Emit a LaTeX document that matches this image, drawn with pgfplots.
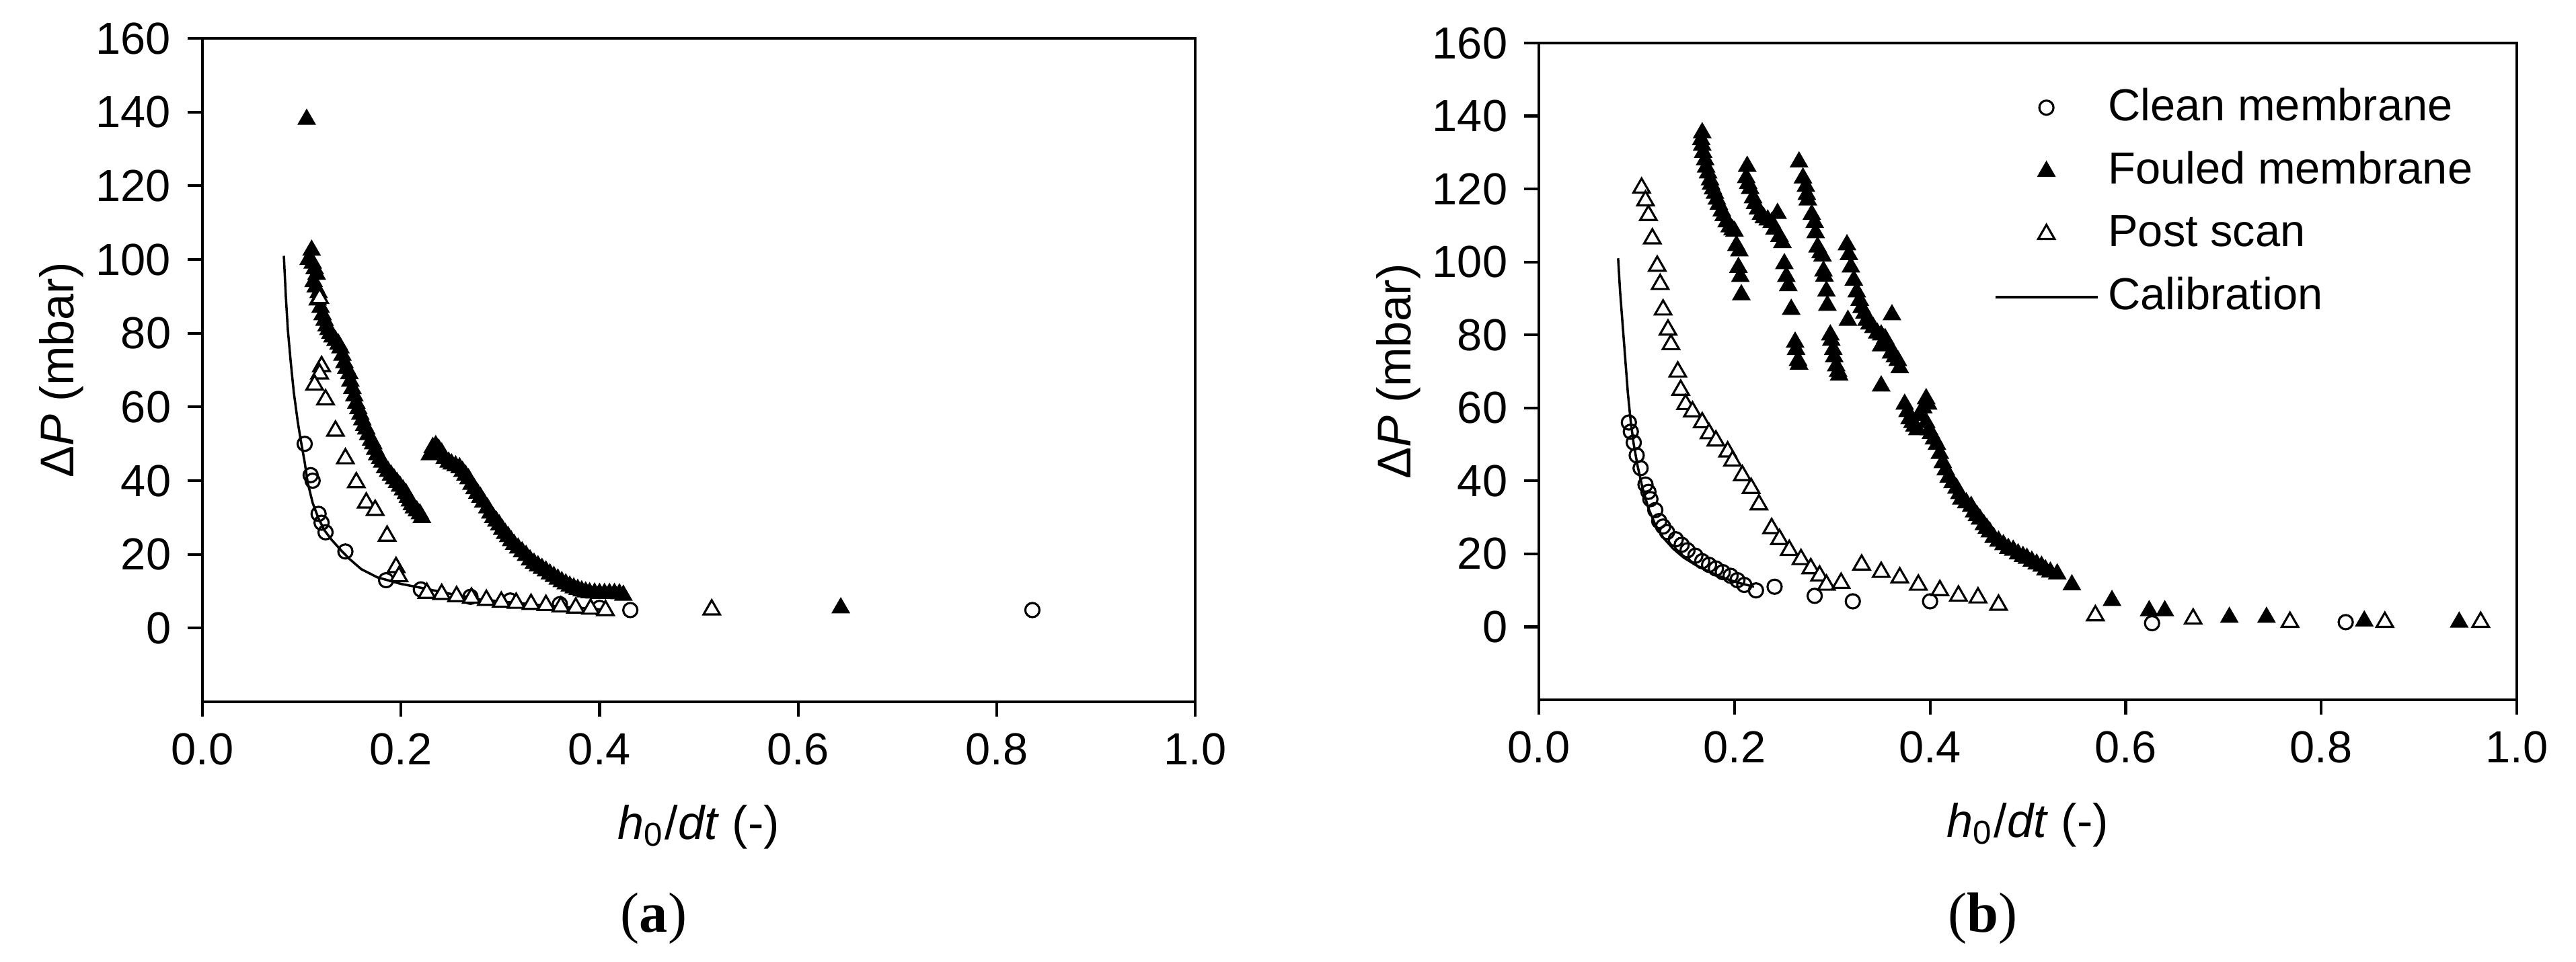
\documentclass[border=0pt]{standalone}
\usepackage{fontspec}
\setmainfont{Liberation Sans}
\newfontfamily\capfont{Liberation Serif}
\usepackage{pgfplots}
\pgfplotsset{compat=1.18}

\pgfplotsset{
  panel/.style={
    scale only axis,
    xmin=0, xmax=1, ymin=-20, ymax=160,
    xtick={0,0.2,0.4,0.6,0.8,1}, ytick={0,20,40,60,80,100,120,140,160},
    tick align=outside, xtick pos=bottom, ytick pos=left,
    major tick length=0.11cm,
    axis line style={line width=0.6pt},
    every tick/.style={line width=0.6pt, black},
    tick label style={font=\fontsize{9.5}{11}\selectfont},
    label style={font=\fontsize{9.5}{11}\selectfont},
    /pgf/number format/assume math mode=true,
    xticklabel style={/pgf/number format/.cd, fixed, fixed zerofill, precision=1},
    every axis x label/.style={at={(axis description cs:0.5,0)}, yshift=-1.02cm, anchor=base},
    every axis y label/.style={at={(axis description cs:0,0.5)}, xshift=-0.955cm, rotate=90, anchor=base},
    xlabel={\textit{h}\textsubscript{0}/\textit{dt} (-)},
    ylabel={Δ\textit{P} (mbar)},
  },
  lgimg/.style={legend image code/.code={\draw[mark repeat=2,mark phase=2,##1] plot coordinates {(0cm,0cm) (0.38cm,0cm) (0.76cm,0cm)};}},
  clean/.style={only marks, mark=o, mark size=1.5pt, mark options={fill=white, draw=black, line width=0.45pt}, lgimg},
  fouled/.style={only marks, mark=triangle*, mark size=2pt, mark options={fill=black, draw=black, line width=0.3pt}, lgimg},
  post/.style={only marks, mark=triangle*, mark size=2pt, mark options={fill=white, draw=black, line width=0.45pt}, lgimg},
  calib/.style={no markers, black, line width=0.5pt, lgimg},
}

\begin{document}
\begin{tikzpicture}
\useasboundingbox (0,0) rectangle (19.15,-7.15);

% (a)
\begin{axis}[panel, at={(1.505cm,-5.22cm)}, anchor=south west, width=7.38cm, height=4.935cm]
\addplot[clean] coordinates {(0.103,50)(0.109,41.5)(0.111,40)(0.117,31)(0.120,28.6)(0.124,26)(0.144,20.8)(0.185,13)(0.22,10.5)(0.27,8.5)(0.31,7.5)(0.36,6.5)(0.40,5.5)(0.431,4.9)(0.836,4.9)};
\addplot[fouled] coordinates {(0.105,138)
(0.110,102.5)(0.107,100)(0.111,99)(0.113,97.5)(0.115,96)(0.112,94)(0.114,92.5)(0.117,91)(0.116,89)(0.119,87)(0.121,85)(0.123,83.5)(0.125,82)(0.127,81)(0.129,80)(0.131,79)(0.134,78)(0.137,77)(0.139,76)(0.141,74)(0.143,72)(0.145,70.5)(0.148,69)(0.149,67)(0.151,65)(0.153,63)(0.155,61)(0.157,59.5)(0.159,58)(0.161,56.5)(0.163,55)(0.165,54)(0.167,52.5)(0.170,51)(0.172,50)(0.174,48.5)(0.176,47)(0.179,46)(0.181,45)(0.184,43.5)(0.187,42.5)(0.190,41.5)(0.193,40.5)(0.196,39.5)(0.199,38.5)(0.202,37.5)(0.205,36.5)(0.207,35.5)(0.209,34.5)(0.211,33.5)(0.213,32.6)(0.216,31.8)(0.219,31)(0.221,30)
(0.229,47)(0.232,49)(0.235,49.5)(0.238,48.5)(0.241,47.5)(0.244,46)(0.248,45)(0.251,44.5)(0.255,44)(0.259,43.5)(0.262,42.5)(0.265,41.5)(0.268,40.5)(0.271,39)(0.274,37.8)(0.277,36.6)(0.280,35.5)(0.283,34.2)(0.287,32.6)(0.290,31.2)(0.293,30)(0.296,29)(0.299,28)(0.302,26.8)(0.305,25.7)(0.308,24.8)(0.311,23.7)(0.314,22.7)(0.318,21.7)(0.322,20.7)(0.326,19.7)(0.330,18.5)(0.334,17.6)(0.338,16.9)(0.342,16.2)(0.346,15.5)(0.350,14.7)(0.354,14)(0.358,13.3)(0.362,12.6)(0.366,12)(0.370,11.4)(0.374,10.9)(0.378,10.5)(0.382,10.1)(0.386,9.8)(0.390,9.6)(0.395,9.5)(0.400,9.4)(0.405,9.4)(0.410,9.4)(0.415,9.4)(0.420,9.3)(0.424,8.9)
(0.643,5.5)};
\addplot[post] coordinates {(0.118,89.5)(0.120,71)(0.118,69)(0.113,66)(0.124,62)(0.134,53.5)(0.144,46)(0.155,39.5)(0.165,34)(0.174,32)(0.186,25)(0.195,16.5)(0.198,14)(0.226,9.5)(0.241,9.2)(0.256,8.6)(0.271,8.2)(0.286,7.6)(0.301,7.1)(0.316,6.8)(0.331,6.5)(0.346,6.2)(0.361,5.8)(0.376,5.5)(0.391,5.2)(0.406,4.8)(0.513,5)};
\addplot[calib] coordinates {(0.082,101)(0.084,90)(0.086,81)(0.089,72)(0.092,64)(0.096,56)(0.099,51)(0.103,45)(0.106,39.5)(0.111,34)(0.117,29.7)(0.123,26.5)(0.130,24)(0.140,21)(0.148,18.8)(0.160,16)(0.176,13.8)(0.200,12)(0.221,10.9)(0.25,9.3)(0.280,7.8)(0.31,7)(0.35,6)(0.38,5.5)(0.41,4.9)};
\end{axis}

% (b)
\begin{axis}[panel, at={(11.44cm,-5.205cm)}, anchor=south west, width=7.27cm, height=4.885cm,
  legend style={draw=none, fill=none, at={(axis description cs:0.45,0.962)}, anchor=north west,
    font=\fontsize{9.5}{11}\selectfont, legend cell align=left, row sep=1.1pt}]
\addplot[clean] coordinates {(0.092,56)(0.094,53.5)(0.097,50.5)(0.100,47)(0.104,43.5)(0.109,39)(0.112,37)(0.114,35)(0.119,32)(0.123,29)(0.127,27.5)(0.131,26)(0.140,24)(0.146,22.5)(0.152,21)(0.160,19.5)(0.167,18)(0.174,17)(0.181,16)(0.188,15)(0.196,14)(0.203,12.8)(0.210,11.5)(0.222,10)(0.241,11)(0.282,8.5)(0.321,7)(0.400,7)(0.627,1)(0.825,1.3)};
\addplot[fouled] coordinates {(0.167,135.4)(0.166,133.5)(0.167,132)(0.168,130)(0.170,128)(0.171,126)(0.173,124.4)(0.175,122.5)(0.176,121.3)(0.178,120)(0.180,118.8)(0.182,117.2)(0.184,115.8)(0.187,114)(0.189,112.7)(0.192,111)(0.195,109.6)(0.198,108.8)(0.200,108.4)
(0.202,104.5)(0.205,103)(0.204,98.5)(0.206,96)(0.207,91)
(0.213,126.2)(0.212,123.1)(0.214,121.5)(0.216,120.1)(0.219,117.6)(0.221,116)(0.224,114.5)(0.227,113)(0.230,112.1)(0.234,111.5)(0.238,110.8)(0.241,109)(0.244,113.3)(0.246,107)(0.249,105.3)(0.251,99.5)(0.253,96)(0.255,93.5)(0.258,87)
(0.262,78)(0.263,76)(0.265,73)(0.266,72)
(0.266,127.4)(0.270,123)(0.273,120.7)(0.274,118.5)(0.275,117)(0.279,113)(0.282,110.8)(0.283,108)(0.285,104.1)(0.288,102.5)(0.290,101.6)(0.291,97.5)(0.292,96.1)(0.294,92)(0.295,88.1)
(0.298,80)(0.299,78.5)(0.301,76)(0.302,74)(0.304,71.5)(0.306,70)(0.307,69)
(0.315,104.7)(0.317,102)(0.319,98.6)(0.322,95)(0.325,91.8)(0.328,89.5)(0.330,87.5)(0.333,86)(0.335,84)(0.316,84)(0.338,83)(0.342,82)(0.346,80.5)(0.350,80)(0.354,79)(0.361,85.5)(0.357,77.5)(0.350,77)(0.360,75)(0.364,74)(0.367,73)(0.369,71)(0.350,66)
(0.374,61)(0.377,59)(0.379,57)(0.382,56)(0.384,55)(0.387,54)(0.389,58)(0.393,60)(0.396,62.5)(0.398,61)(0.396,56)(0.399,54)(0.401,53)(0.404,51.5)(0.407,50)(0.410,47.5)(0.413,45)(0.416,43)(0.419,41)(0.423,39.5)(0.427,38)(0.430,36.5)(0.432,35)(0.437,34)(0.442,33)(0.445,31.5)(0.448,30.5)(0.451,29.5)(0.455,28)(0.458,27)(0.461,26)(0.465,24.5)(0.470,23.5)(0.475,22.5)(0.480,21.5)(0.485,21)(0.490,20)(0.495,19.3)(0.499,18.8)(0.504,18)(0.509,17.2)(0.514,16.6)(0.518,15.6)(0.523,15)(0.530,14.5)(0.545,11.5)
(0.586,7.2)(0.624,4.4)(0.640,4.4)(0.706,2.6)(0.744,2.6)(0.844,1.6)(0.941,1.3)};
\addplot[post] coordinates {(0.105,120.3)(0.109,116.8)(0.112,112.8)(0.116,106.4)(0.121,98.9)(0.124,93.9)(0.127,86.9)(0.132,81.4)(0.135,77.4)(0.142,69.9)(0.145,64.9)(0.150,61)(0.157,59)(0.167,56)(0.174,53)(0.181,51)(0.193,48)(0.198,45.5)(0.208,41.5)(0.217,38)(0.225,33.5)(0.238,27)(0.246,24)(0.256,21)(0.268,18.5)(0.278,16)(0.287,14)(0.294,11.5)(0.309,12)(0.330,17)(0.350,15)(0.369,13.5)(0.388,11.5)(0.410,10)(0.429,8.5)(0.449,8)(0.470,6)(0.569,3.1)(0.669,2.2)(0.768,1.3)(0.865,1.3)(0.963,1.3)};
\addplot[calib] coordinates {(0.081,101)(0.083,92)(0.085,85)(0.087,78)(0.089,71)(0.091,64)(0.094,56)(0.097,50)(0.101,44)(0.106,38)(0.112,32.5)(0.119,28)(0.127,24.5)(0.137,21.5)(0.148,19)(0.160,17)(0.175,15)(0.190,13.3)(0.205,12)(0.220,11)};
\legend{Clean membrane, Fouled membrane, Post scan, Calibration}
\end{axis}

\node[font=\capfont\fontsize{12}{14}\selectfont] at (4.86,-6.83) {(\textbf{a})};
\node[font=\capfont\fontsize{12}{14}\selectfont] at (14.74,-6.83) {(\textbf{b})};
\end{tikzpicture}
\end{document}
